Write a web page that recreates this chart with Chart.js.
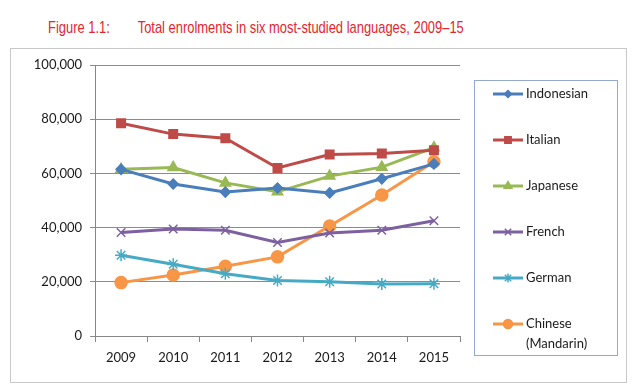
<!DOCTYPE html>
<html>
<head>
<meta charset="utf-8">
<script src="https://cdn.jsdelivr.net/npm/chart.js@4"></script>
<style>
    body { margin: 0; background: #fff; }
    #wrap { position: relative; width: 640px; height: 390px; }
    #title {
        position: absolute; top: 18px; left: 48px;
        font-family: 'Liberation Sans', Arial, sans-serif;
        font-size: 17px; color: #e3262e; white-space: nowrap;
        transform: scaleX(0.76); transform-origin: left top;
    }
    #title span.lbl { display: inline-block; width: 118px; }
    #frame {
        position: absolute; left: 10px; top: 48px; width: 615px; height: 333px;
        border: 1.5px solid #c8c8c8;
    }
    canvas { position: absolute; left: 0; top: 0; }
</style>
</head>
<body>
<div id="wrap">
    <div id="title"><span class="lbl">Figure 1.1:</span>Total enrolments in six most-studied languages, 2009–15</div>
    <div id="frame"></div>
    <canvas id="langChart" width="640" height="390"></canvas>
</div>
<script>
const years = ['2009', '2010', '2011', '2012', '2013', '2014', '2015'];
const languages = ['Indonesian', 'Italian', 'Japanese', 'French', 'German', 'Chinese (Mandarin)'];
const indonesian = [61500, 56100, 53100, 54600, 52800, 58000, 63500];
const italian = [78500, 74500, 73000, 62000, 67000, 67300, 68500];
const japanese = [61500, 62200, 56500, 53200, 59000, 62300, 69500];
const french = [38200, 39500, 39000, 34500, 38000, 39000, 42500];
const german = [29800, 26500, 23000, 20500, 20000, 19200, 19300];
const chinese = [19700, 22500, 25700, 29200, 40600, 52000, 64300];

const colors = ['#4a7ebb', '#be4b48', '#98b954', '#7d60a0', '#46aac5', '#f79646'];
const markers = ['rectRot', 'rect', 'triangle', 'crossRot', 'star', 'circle'];
const markerSizes = [5, 6, 6, 6, 6, 6];
const seriesValues = [indonesian, italian, japanese, french, german, chinese];

// legend with a box round it, a short line + marker for each series
const boxLegend = {
    id: 'boxLegend',
    afterDraw(chart) {
        const ctx = chart.ctx;
        const left = 474, top = 80, width = 143, height = 275;
        ctx.save();
        ctx.strokeStyle = '#93a9cf';
        ctx.lineWidth = 1;
        ctx.strokeRect(left + 0.5, top + 0.5, width, height);
        chart.data.datasets.forEach((ds, i) => {
            const y = top + 14 + i * 46;
            ctx.strokeStyle = ds.borderColor;
            ctx.fillStyle = ds.borderColor;
            ctx.lineWidth = 3;
            ctx.beginPath();
            ctx.moveTo(493, y);
            ctx.lineTo(523, y);
            ctx.stroke();
            ctx.lineWidth = 1.5;
            Chart.helpers.drawPoint(ctx, {
                pointStyle: ds.pointStyle,
                radius: ds.pointRadius - 1.5,
                borderWidth: 1.5
            }, 508, y);
            ctx.fillStyle = '#1a1a1a';
            ctx.font = '13px Lato, sans-serif';
            ctx.textBaseline = 'middle';
            const parts = ds.label.split(' (');
            ctx.fillText(parts[0], 526, y);
            if (parts[1]) ctx.fillText('(' + parts[1], 526, y + 20);
        });
        ctx.restore();
    }
};

const ctx = document.getElementById('langChart').getContext('2d');
new Chart(ctx, {
    type: 'line',
    data: {
        labels: years,
        datasets: languages.map((name, i) => ({
            label: name,
            data: seriesValues[i],
            borderColor: colors[i],
            backgroundColor: colors[i],
            pointBackgroundColor: colors[i],
            pointBorderColor: colors[i],
            pointStyle: markers[i],
            pointRadius: markerSizes[i],
            pointBorderWidth: 1.5,
            borderWidth: 3,
            tension: 0,
            fill: false
        }))
    },
    options: {
        responsive: false,
        animation: false,
        layout: { padding: { left: 10, top: 65, right: 180, bottom: 10 } },
        plugins: {
            legend: { display: false },
            tooltip: { enabled: false }
        },
        scales: {
            x: {
                offset: true,
                afterFit: scale => { scale.height = 44; },
                grid: { display: true, drawOnChartArea: false, offset: true, color: '#868686', tickLength: 6 },
                border: { color: '#868686', width: 1 },
                ticks: { color: '#1a1a1a', padding: 8, font: { family: 'Lato', size: 13 } }
            },
            y: {
                min: 0,
                max: 100000,
                afterFit: scale => { scale.width = 85; },
                grid: { color: '#8c8c8c', tickLength: 5 },
                border: { color: '#868686', width: 1 },
                ticks: {
                    stepSize: 20000,
                    color: '#1a1a1a',
                    padding: 8,
                    font: { family: 'Lato', size: 13 },
                    callback: v => v.toLocaleString('en-US')
                }
            }
        }
    },
    plugins: [boxLegend]
});
</script>
</body>
</html>
